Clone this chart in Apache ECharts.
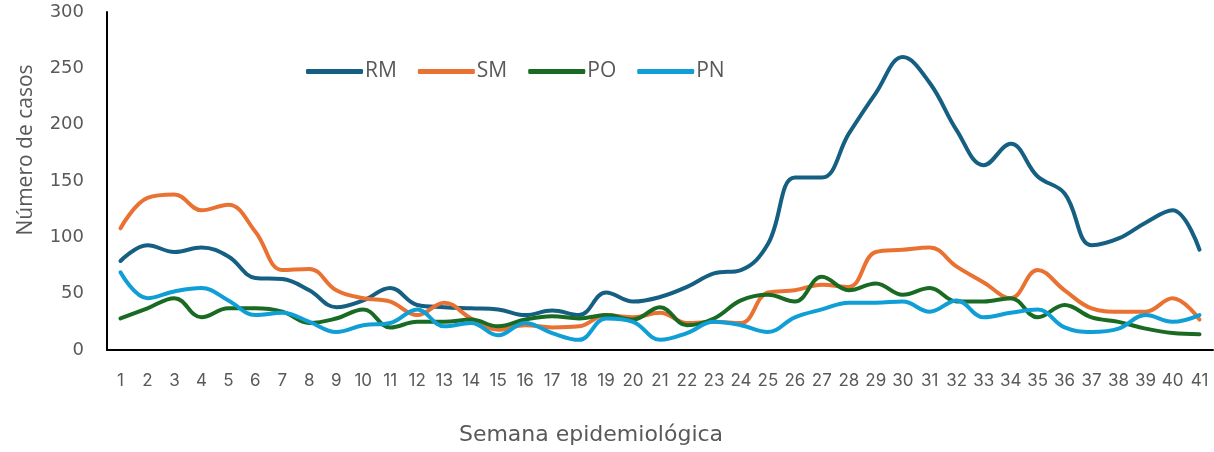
<!DOCTYPE html>
<html>
<head>
<meta charset="utf-8">
<script src="https://cdn.jsdelivr.net/npm/echarts@6/dist/echarts.min.js"></script>
<style>
  html, body { margin: 0; padding: 0; background: #fff; }
  #chart { width: 1214px; height: 452px; }
</style>
</head>
<body>
<div id="chart"></div>
<script>
// semanas epidemiológicas
var weeks = [];
for (var i = 1; i <= 41; i++) weeks.push(String(i));

// casos por semana
var rm = [79, 93, 87, 91, 83, 64, 63, 53, 38, 44, 55, 40, 38, 37, 36, 31, 35, 31, 51, 43,
          47, 56, 68, 71, 94, 153, 153, 192, 228, 260, 237, 195, 164, 183, 154, 139, 93, 99, 113, 124, 89];
var sm = [108, 135, 138, 124, 129, 105, 71, 72, 53, 46, 43, 31, 42, 28, 18, 22, 20, 21, 31, 29,
          33, 24, 25, 24, 51, 53, 58, 56, 87, 89, 91, 74, 60, 46, 71, 53, 37, 34, 34, 46, 27];
var po = [28, 37, 46, 29, 37, 37, 34, 24, 28, 36, 20, 25, 25, 27, 21, 27, 30, 28, 31, 27,
          38, 22, 28, 44, 49, 43, 65, 53, 59, 49, 55, 43, 43, 46, 29, 40, 29, 25, 19, 15, 14];
var pn = [69, 46, 52, 55, 44, 31, 33, 25, 16, 22, 24, 36, 21, 24, 13, 24, 15, 9, 28, 25,
          9, 15, 25, 22, 16, 29, 36, 42, 42, 43, 34, 44, 29, 33, 36, 20, 16, 19, 31, 25, 31];

var yTicks = [0, 50, 100, 150, 200, 250, 300];

var colors = ['#156082', '#E97132', '#196B24', '#0F9ED5'];

function serie(name, data) {
  return {
    name: name,
    type: 'line',
    data: data,
    smooth: 0.4,
    symbol: 'none',
    lineStyle: { width: 4, cap: 'round', join: 'round' }
  };
}

var myChart = echarts.init(document.getElementById('chart'));
myChart.setOption({
  animation: false,
  color: colors,
  grid: { left: 107, right: 1, top: 12, bottom: 102, containLabel: false },
  legend: {
    left: 301,
    top: 56,
    itemWidth: 57,
    itemHeight: 5,
    itemGap: 21,
    icon: 'roundRect',
    textStyle: { color: '#595959', fontSize: 21, fontFamily: 'Open Sans', padding: [0, 0, 0, -3] },
    data: ['RM', 'SM', 'PO', 'PN']
  },
  xAxis: {
    type: 'category',
    data: weeks,
    boundaryGap: true,
    axisLine: { lineStyle: { color: '#000', width: 2 } },
    axisTick: { show: false },
    axisLabel: { interval: 0, color: '#595959', fontSize: 17, fontFamily: 'Inter', margin: 22 },
    name: 'Semana epidemiológica',
    nameLocation: 'middle',
    nameGap: 74,
    nameTextStyle: { color: '#595959', fontSize: 22, fontFamily: 'DejaVu Sans', padding: [0, 138, 0, 0] }
  },
  yAxis: {
    type: 'value',
    min: yTicks[0],
    max: yTicks[yTicks.length - 1],
    interval: 50,
    splitLine: { show: false },
    axisLine: { show: true, lineStyle: { color: '#000', width: 2 } },
    axisTick: { show: false },
    axisLabel: { color: '#595959', fontSize: 18, fontFamily: 'DejaVu Sans', margin: 23 },
    name: 'Número de casos',
    nameLocation: 'middle',
    nameGap: 70,
    nameTextStyle: { color: '#595959', fontSize: 21, fontFamily: 'Open Sans', padding: [0, 0, 0, 62] }
  },
  series: [
    serie('RM', rm),
    serie('SM', sm),
    serie('PO', po),
    serie('PN', pn)
  ]
});
</script>
</body>
</html>
